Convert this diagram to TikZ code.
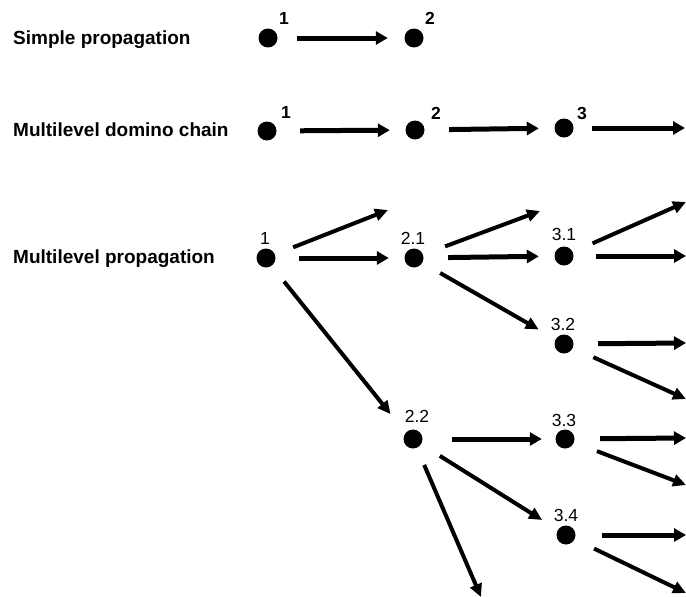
\documentclass[tikz,border=0pt]{standalone}
\usepackage{fontspec}
\setmainfont{Liberation Sans}
\usetikzlibrary{arrows.meta}
\tikzset{
  dot/.style={circle, fill=black, inner sep=0pt, minimum size=19pt},
  rowlabel/.style={anchor=base west, inner sep=0pt, font=\fontsize{19}{22}\selectfont\bfseries},
  numb/.style={inner sep=0pt, font=\fontsize{17.5}{20}\selectfont\bfseries},
  numr/.style={inner sep=0pt, font=\fontsize{17.5}{20}\selectfont},
  arrh/.style={line width=5pt, -{Triangle[length=12pt,width=13pt]}},
  arrd/.style={line width=4pt, -{Triangle[length=13pt,width=12pt]}},
}
\begin{document}
\begin{tikzpicture}[x=1pt,y=-1pt]
\useasboundingbox (0,0) rectangle (686,597);

% row labels
\node[rowlabel] (t1) at (13,45) {Simple propagation};
\node[rowlabel] (t2) at (13,136) {Multilevel domino chain};
\node[rowlabel] (t3) at (13,263) {Multilevel propagation};

% row 1
\node[dot] (s1) at (268,38) {};
\node[dot] (s2) at (414,38) {};
\node[numb] (ls1) at (284,18) {1};
\node[numb] (ls2) at (430,18) {2};
\draw[arrh, shorten <=19.5pt, shorten >=16.5pt] (s1) -- (s2);

% row 2
\node[dot] (d1) at (267,131) {};
\node[dot] (d2) at (415,130) {};
\node[dot] (d3) at (564,128) {};
\node[numb] (ld1) at (286,112) {1};
\node[numb] (ld2) at (436,113) {2};
\node[numb] (ld3) at (582,113) {3};
\coordinate (d4) at (685,128);
\draw[arrh, shorten <=23.5pt, shorten >=15.5pt] (d1) -- (d2);
\draw[arrh, shorten <=24.5pt, shorten >=15.5pt] (d2) -- (d3);
\draw[arrh, shorten <=18.5pt] (d3) -- (d4);

% row 3 nodes
\node[dot] (m1)  at (266,258) {};
\node[dot] (m21) at (414,258) {};
\node[dot] (m31) at (564,256) {};
\node[dot] (m32) at (564,344) {};
\node[dot] (m22) at (413,439) {};
\node[dot] (m33) at (565,439) {};
\node[dot] (m34) at (566,535) {};
\node[numr] (lm1)  at (265,238) {1};
\node[numr] (lm21) at (413,238) {2.1};
\node[numr] (lm31) at (564,234) {3.1};
\node[numr] (lm32) at (563,324) {3.2};
\node[numr] (lm22) at (417,416) {2.2};
\node[numr] (lm33) at (564,420) {3.3};
\node[numr] (lm34) at (566,515) {3.4};

% free ends
\coordinate (e1)  at (388,210);
\coordinate (e4)  at (540,211);
\coordinate (e7)  at (686,202);
\coordinate (e8)  at (686,256);
\coordinate (e9)  at (686,343);
\coordinate (e10) at (686,399);
\coordinate (e13) at (481,597);
\coordinate (e14) at (686,438);
\coordinate (e15) at (686,485);
\coordinate (e16) at (686,535);
\coordinate (e17) at (686,593);

% row 3 arrows
\draw[arrd, shorten <=19.5pt] (m1) -- (e1);
\draw[arrh, shorten <=23.5pt, shorten >=15.5pt] (m1) -- (m21);
\draw[arrd, shorten <=20pt, shorten >=24pt] (m1.-55) -- (m22.140);
\draw[arrd, shorten <=23.5pt] (m21) -- (e4);
\draw[arrh, shorten <=24.5pt, shorten >=15.5pt] (m21) -- (m31);
\draw[arrd, shorten <=20.5pt, shorten >=19.5pt] (m21) -- (m32);
\draw[arrd, shorten <=21.5pt] (m31) -- (e7);
\draw[arrh, shorten <=22.5pt] (m31) -- (e8);
\draw[arrh, shorten <=24.5pt] (m32) -- (e9);
\draw[arrd, shorten <=22.5pt] (m32) -- (e10);
\draw[arrh, shorten <=29.5pt, shorten >=13.5pt] (m22) -- (m33);
\draw[arrd, shorten <=22pt, shorten >=18.5pt] (m22) -- (m34);
\draw[arrd, shorten <=18.5pt] (m22) -- (e13);
\draw[arrh, shorten <=25.5pt] (m33) -- (e14);
\draw[arrd, shorten <=24.5pt] (m33) -- (e15);
\draw[arrh, shorten <=26.5pt] (m34) -- (e16);
\draw[arrd, shorten <=21.5pt] (m34) -- (e17);
\end{tikzpicture}
\end{document}
